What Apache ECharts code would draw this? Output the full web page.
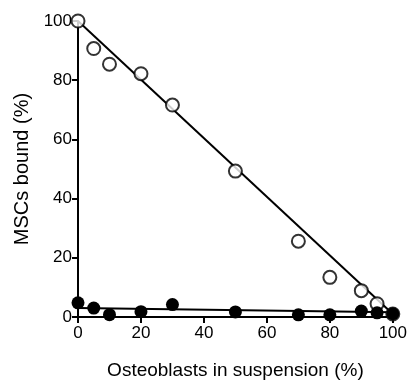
<!DOCTYPE html>
<html><head><meta charset="utf-8">
<script src="https://cdn.jsdelivr.net/npm/echarts@6/dist/echarts.min.js"></script>
<style>html,body{margin:0;padding:0;background:#fff}#c{width:410px;height:385px}</style>
</head><body><div id="c"></div>
<script>
const xValues = [0, 5, 10, 20, 30, 50, 70, 80, 90, 95, 100];
const openValues = [100, 90.7, 85.4, 82.2, 71.6, 49.3, 25.6, 13.4, 8.9, 4.5, 1.0];
const filledValues = [4.8, 3.0, 0.8, 1.8, 4.2, 1.7, 0.75, 0.75, 2.0, 1.4, 1.1];
const openFitX = [0, 100];
const openFitY = [100, 1];
const filledFitX = [0, 100];
const filledFitY = [3.0, 1.6];
const xTicks = [0, 20, 40, 60, 80, 100];
const yTicks = [0, 20, 40, 60, 80, 100];

const zip = (a, b) => a.map((v, i) => [v, b[i]]);
const font = 'Liberation Sans, Arial, sans-serif';
const chart = echarts.init(document.getElementById('c'), null, {renderer: 'canvas'});
const axisCommon = {
  min: 0, max: 100, interval: 20,
  axisLine: {show: true, onZero: false, lineStyle: {color: '#000', width: 2}},
  axisTick: {show: true, inside: false, length: 6, lineStyle: {color: '#000', width: 2}},
  axisLabel: {color: '#000', fontSize: 17, fontFamily: font},
  splitLine: {show: false}
};
chart.setOption({
  animation: false,
  backgroundColor: '#fff',
  grid: {left: 78, right: 16, top: 21, bottom: 58, containLabel: false},
  xAxis: Object.assign({}, axisCommon, {
    type: 'value', name: 'Osteoblasts in suspension (%)', nameLocation: 'middle', nameGap: 44,
    nameTextStyle: {color: '#000', fontSize: 19, fontFamily: font},
    axisLabel: Object.assign({}, axisCommon.axisLabel, {margin: 8, formatter: v => xTicks.includes(v) ? String(v) : ''})
  }),
  yAxis: Object.assign({}, axisCommon, {
    type: 'value', name: 'MSCs bound (%)', nameLocation: 'middle', nameGap: 46, nameRotate: 90,
    nameTextStyle: {color: '#000', fontSize: 20, fontFamily: font},
    axisLabel: Object.assign({}, axisCommon.axisLabel, {margin: 6, formatter: v => yTicks.includes(v) ? String(v) : ''})
  }),
  series: [
    {type: 'line', data: zip(openFitX, openFitY), symbol: 'none', lineStyle: {color: '#000', width: 2}, z: 1},
    {type: 'line', data: zip(filledFitX, filledFitY), symbol: 'none', lineStyle: {color: '#000', width: 2}, z: 1},
    {type: 'scatter', data: zip(xValues, openValues), symbol: 'circle', symbolSize: 13,
     itemStyle: {color: '#fff', borderColor: '#000', borderWidth: 2}, z: 3},
    {type: 'scatter', data: zip(xValues, filledValues), symbol: 'circle', symbolSize: 13,
     itemStyle: {color: '#000', borderColor: '#000', borderWidth: 0, opacity: 1}, z: 4}
  ]
});
</script></body></html>
